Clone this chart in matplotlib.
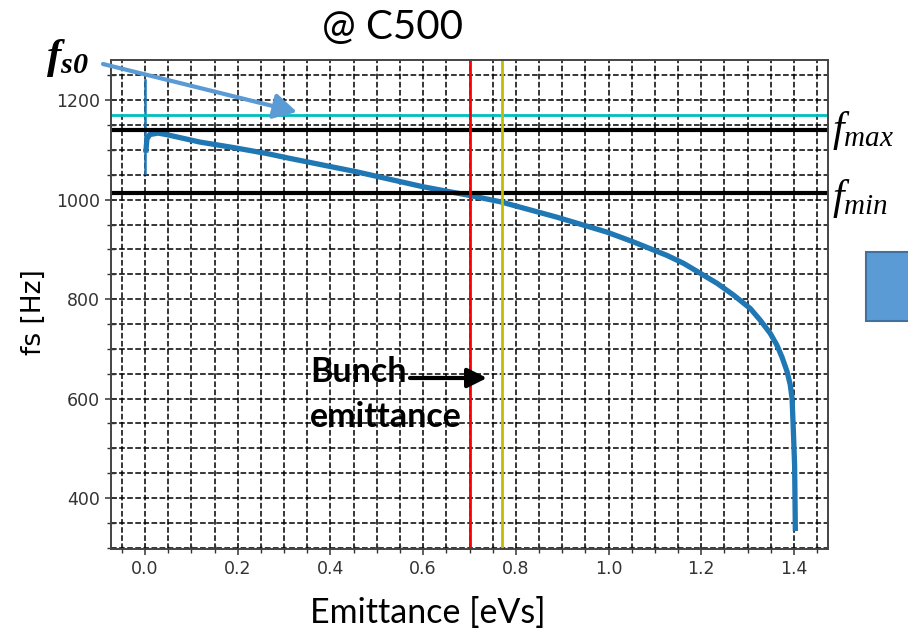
import matplotlib.pyplot as plt
from matplotlib.patches import Rectangle
from matplotlib.ticker import MultipleLocator

# synchrotron frequency vs emittance
emittance = [0.002, 0.004, 0.010, 0.028, 0.046, 0.118, 0.19, 0.262, 0.313, 0.457,
             0.600, 0.698, 0.766, 0.888, 0.996, 1.054, 1.126, 1.162, 1.198, 1.234,
             1.270, 1.306, 1.327, 1.349, 1.363, 1.374, 1.385, 1.392, 1.396, 1.399,
             1.4015, 1.403]
fs_hz = [1100, 1122, 1131, 1134, 1131, 1116, 1105, 1093, 1083, 1056,
         1026, 1009, 996, 965, 935, 915, 888, 872, 852, 832,
         808, 781, 758, 731, 708, 684, 655, 628, 600, 530,
         464, 339]
# first points at zero emittance
spike_emittance = [0.0, 0.0]
spike_fs = [1240, 1053]

fs0 = 1170
f_max = 1141
f_min = 1013
eps_bunch = 0.70
eps_yellow = 0.77

W, H = 908, 631


def fpos(x, y):
    # pixel position (from top-left) -> figure fraction
    return x / W, 1 - y / H


plt.rcParams['mathtext.fontset'] = 'custom'
plt.rcParams['mathtext.it'] = 'Liberation Serif:italic'
plt.rcParams['mathtext.rm'] = 'Liberation Serif'
plt.rcParams['mathtext.bf'] = 'Liberation Serif:italic:bold'

fig = plt.figure(figsize=(W / 100, H / 100), dpi=100)
ax = fig.add_axes([111 / W, 1 - 549 / H, (828 - 111) / W, (549 - 60) / H])

ax.plot(spike_emittance, spike_fs, color='#1f77b4', lw=1.8)
ax.plot(emittance, fs_hz, color='#1f77b4', lw=3.8)
ax.axhline(fs0, color='c', lw=2)
ax.axhline(f_max, color='k', lw=3)
ax.axhline(f_min, color='k', lw=3)
ax.axvline(eps_bunch, color='r', lw=2)
ax.axvline(eps_yellow, color='y', lw=2)

ax.set_xlim(-0.0735, 1.4735)
ax.set_ylim(297.5, 1281)
ax.xaxis.set_major_locator(MultipleLocator(0.2))
ax.xaxis.set_minor_locator(MultipleLocator(0.05))
ax.yaxis.set_major_locator(MultipleLocator(200))
ax.yaxis.set_minor_locator(MultipleLocator(50))
ax.grid(True, which='both', ls='--', color='k', lw=1.1)
ax.tick_params(which='major', direction='inout', length=9, width=1.1,
               color='#333333', labelsize=12.5, labelcolor='#333333')
ax.tick_params(which='minor', direction='inout', length=6, width=1, color='#333333')
for s in ax.spines.values():
    s.set_color('#444444')
    s.set_linewidth(1.4)

# slide annotations
fig.text(*fpos(392, 27), '@ C500', family='Lato', fontsize=29, ha='center', va='center')
fig.text(*fpos(428, 623), 'Emittance [eVs]', family='Lato', fontsize=24.5,
         ha='center', va='baseline')
fig.text(*fpos(34, 312), 'fs [Hz]', fontsize=19, rotation=90, ha='center', va='center')

fig.text(*fpos(46, 58), r'$\mathbf{f_{s0}}$', fontsize=31, ha='left', va='center')
fig.text(*fpos(832, 130), r'$f_{max}$', fontsize=30, ha='left', va='center')
fig.text(*fpos(832, 198), r'$f_{min}$', fontsize=30, ha='left', va='center')

ax.annotate('', xy=fpos(297, 112), xytext=fpos(103, 64),
            xycoords='figure fraction', textcoords='figure fraction',
            arrowprops=dict(arrowstyle='-|>,head_length=1.0,head_width=0.55',
                            color='#5B9BD5', lw=3, mutation_scale=14,
                            shrinkA=0, shrinkB=0))

fig.text(*fpos(310, 356), 'Bunch\nemittance', family='Lato', weight='bold',
         fontsize=24.5, ha='left', va='top', linespacing=1.5)
ax.annotate('', xy=fpos(487, 378), xytext=fpos(410, 378),
            xycoords='figure fraction', textcoords='figure fraction',
            arrowprops=dict(arrowstyle='-|>,head_length=0.9,head_width=0.45',
                            color='k', lw=3, mutation_scale=13,
                            shrinkA=0, shrinkB=0))

fig.add_artist(Rectangle(fpos(866, 321), 60 / W, 69 / H, transform=fig.transFigure,
                         fc='#5B9BD5', ec='#41719C', lw=1.5, clip_on=False))

fig.savefig('out.png', dpi=100)
